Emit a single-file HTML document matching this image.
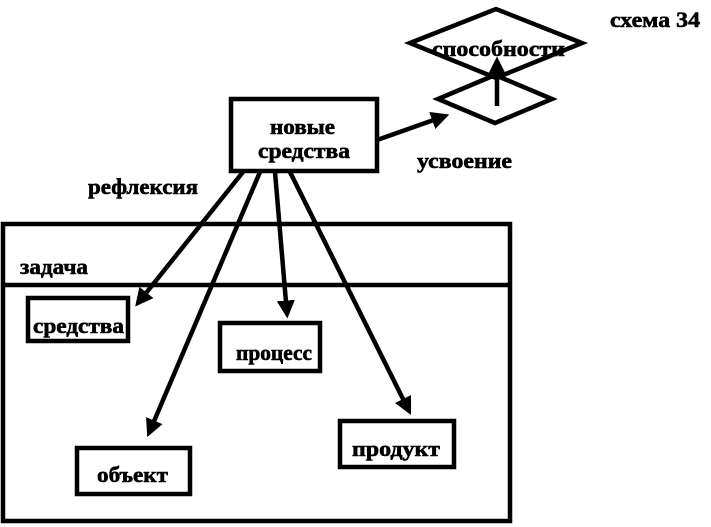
<!DOCTYPE html>
<html><head><meta charset="utf-8"><style>
html,body{margin:0;padding:0;background:#fff;}
svg{display:block}
text{font-family:"Liberation Serif",serif;font-weight:bold;font-size:22px;fill:#000;stroke:#000;stroke-width:0.6}
</style></head><body>
<svg width="711" height="527" viewBox="0 0 711 527" xmlns="http://www.w3.org/2000/svg">
<defs><marker id="a" markerWidth="4" markerHeight="4" refX="3" refY="2" orient="auto" markerUnits="strokeWidth"><path d="M0,0 L4,2 L0,4 z" fill="#000"/></marker></defs>
<g fill="none" stroke="#000" stroke-width="4.5">
<rect x="231" y="99" width="146" height="72"/>
<rect x="3" y="224" width="507" height="297"/>
<line x1="3" y1="285" x2="510" y2="285"/>
<rect x="28" y="298" width="100" height="43"/>
<rect x="220" y="323" width="100" height="48"/>
<rect x="77" y="448" width="113" height="46"/>
<rect x="340" y="421" width="114" height="46"/>
<polygon points="410,43 496,9 582,43 496,78"/>
<polygon points="438,99 495,75 552,99 495,123"/>
<line x1="243" y1="172" x2="138" y2="303" marker-end="url(#a)"/>
<line x1="260" y1="172" x2="149" y2="433" marker-end="url(#a)"/>
<line x1="275" y1="172" x2="287" y2="314" marker-end="url(#a)"/>
<line x1="290" y1="172" x2="409" y2="411" marker-end="url(#a)"/>
<line x1="377" y1="140" x2="445" y2="116" marker-end="url(#a)"/>
<line x1="497" y1="106" x2="497" y2="61" marker-end="url(#a)"/>
</g>
<text x="270" y="134" textLength="65" lengthAdjust="spacingAndGlyphs">новые</text>
<text x="258" y="158" textLength="92" lengthAdjust="spacingAndGlyphs">средства</text>
<text x="432" y="56" textLength="133" lengthAdjust="spacingAndGlyphs">способности</text>
<text x="610" y="27" textLength="90" lengthAdjust="spacingAndGlyphs">схема 34</text>
<text x="417" y="168" textLength="95" lengthAdjust="spacingAndGlyphs">усвоение</text>
<text x="88" y="194" textLength="110" lengthAdjust="spacingAndGlyphs">рефлексия</text>
<text x="20" y="274" textLength="68" lengthAdjust="spacingAndGlyphs">задача</text>
<text x="33" y="333" textLength="91" lengthAdjust="spacingAndGlyphs">средства</text>
<text x="236" y="360" textLength="76" lengthAdjust="spacingAndGlyphs">процесс</text>
<text x="97" y="482" textLength="71" lengthAdjust="spacingAndGlyphs">объект</text>
<text x="352" y="456" textLength="88" lengthAdjust="spacingAndGlyphs">продукт</text>
</svg>
</body></html>
